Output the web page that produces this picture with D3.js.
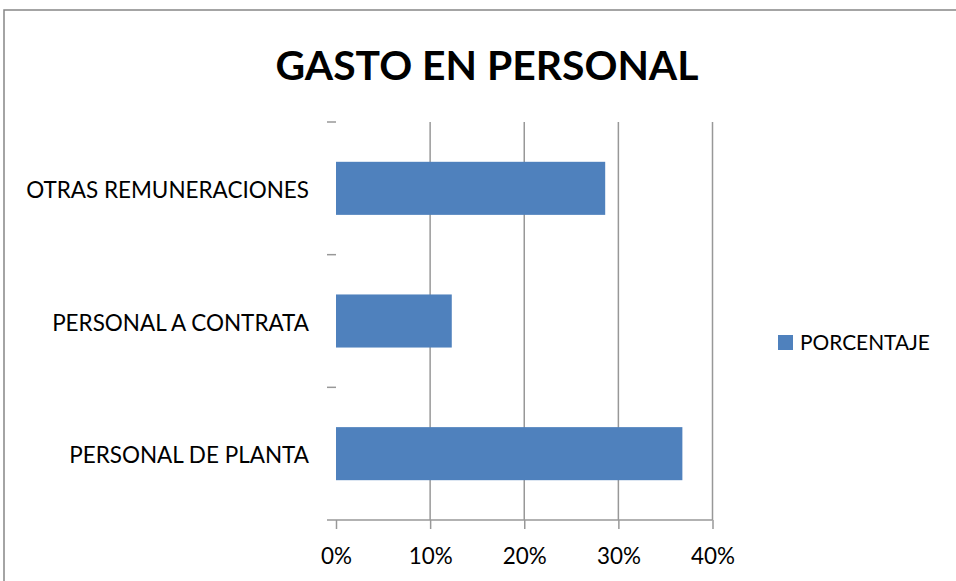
<!DOCTYPE html>
<html><head><meta charset="utf-8">
<script src="https://cdn.jsdelivr.net/npm/d3@7"></script>
<style>body{margin:0;background:#fff}svg{display:block}</style>
</head><body>
<script>
const categories = ["OTRAS REMUNERACIONES", "PERSONAL A CONTRATA", "PERSONAL DE PLANTA"];
const values = [0.286, 0.123, 0.368];
const seriesName = "PORCENTAJE";
const tickValues = [0, 0.1, 0.2, 0.3, 0.4];
const title = "GASTO EN PERSONAL";

const W = 956, H = 581;
const font = "Lato, 'Liberation Sans', Arial, sans-serif";
const svg = d3.select("body").append("svg").attr("width", W).attr("height", H);

// helper: font size so that a text reaches a target width
function fitSize(txt, targetW, weight) {
  const t = svg.append("text").attr("font-family", font).attr("font-size", 100)
    .attr("font-weight", weight || "normal").text(txt);
  const w = t.node().getComputedTextLength();
  t.remove();
  return 100 * targetW / w;
}

// chart border
svg.append("rect").attr("x", 4).attr("y", 10).attr("width", 1000).attr("height", 700)
  .attr("fill", "#fff").attr("stroke", "#868686").attr("stroke-width", 1.5);

const pLeft = 336, pRight = 712.5, pTop = 122, pBottom = 520;
const x = d3.scaleLinear().domain([0, 0.4]).range([pLeft, pRight]);
const y = d3.scaleBand().domain(categories).range([pTop, pBottom]).paddingInner(0.6).paddingOuter(0.3);

// gridlines
svg.append("g").selectAll("line").data(tickValues.slice(1)).join("line")
  .attr("x1", d => x(d)).attr("x2", d => x(d)).attr("y1", pTop).attr("y2", pBottom)
  .attr("stroke", "#989898").attr("stroke-width", 1.5);

// bars
svg.append("g").selectAll("rect").data(categories).join("rect")
  .attr("x", x(0)).attr("y", d => y(d)).attr("width", (d, i) => x(values[i]) - x(0))
  .attr("height", y.bandwidth()).attr("fill", "#4F81BD");

// x axis
const tickFs = fitSize("10%", 44);
const xAxis = d3.axisBottom(x).tickValues(tickValues).tickFormat(d3.format(".0%")).tickSize(9).tickSizeOuter(0);
const gx = svg.append("g").attr("transform", `translate(0,${pBottom})`).call(xAxis);
gx.select(".domain").remove();
gx.append("line").attr("x1", pLeft - 9).attr("x2", pRight).attr("stroke", "#989898").attr("stroke-width", 1.5);
gx.selectAll(".tick line").attr("stroke", "#989898").attr("stroke-width", 1.5);
gx.selectAll(".tick text").attr("font-family", font).attr("font-size", tickFs).attr("fill", "#000")
  .attr("y", 44).attr("dy", null);

// category boundary ticks (left)
const bounds = [pTop, pTop + (pBottom - pTop) / 3, pTop + 2 * (pBottom - pTop) / 3];
svg.append("g").selectAll("line").data(bounds).join("line")
  .attr("x1", pLeft - 9).attr("x2", pLeft).attr("y1", d => d).attr("y2", d => d)
  .attr("stroke", "#989898").attr("stroke-width", 1.5);

// category labels
const labFs = fitSize(categories[0], 283);
const yAxis = d3.axisLeft(y).tickSize(0).tickPadding(27);
const gy = svg.append("g").attr("transform", `translate(${pLeft},0)`).call(yAxis);
gy.select(".domain").remove();
gy.selectAll(".tick text").attr("font-family", font).attr("font-size", labFs).attr("fill", "#000")
  .attr("dy", null).attr("y", 9.5);

// title
const titleFs = fitSize(title, 423, "bold");
svg.append("text").attr("x", 487).attr("y", 80).attr("text-anchor", "middle")
  .attr("font-family", font).attr("font-weight", "bold").attr("font-size", titleFs).text(title);

// legend
const legFs = fitSize(seriesName, 130);
svg.append("rect").attr("x", 778).attr("y", 335).attr("width", 15).attr("height", 15).attr("fill", "#4F81BD");
svg.append("text").attr("x", 800).attr("y", 350).attr("font-family", font).attr("font-size", legFs).text(seriesName);
</script>
</body></html>
